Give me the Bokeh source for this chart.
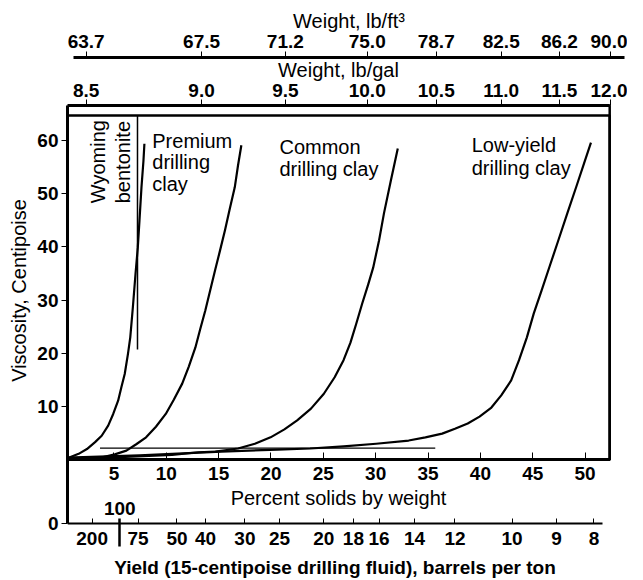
import math
from bokeh.plotting import figure
from bokeh.models import Range1d, LinearAxis, FixedTicker, BoxAnnotation, Title
from bokeh.core.properties import value
from bokeh.embed import file_html
from bokeh.resources import INLINE

FONT = "Liberation Sans"

# ---- data: viscosity (cP) vs percent solids by weight ----
wyoming_solids = [0.56, 0.85, 1.63, 2.42, 3.20, 3.83, 4.45, 4.93, 5.40, 5.71, 6.03, 6.34, 6.56,
                  6.81, 7.06, 7.28, 7.44, 7.63, 7.82, 7.91]
wyoming_visc = [0.2, 0.5, 1.1, 2.0, 3.3, 4.5, 6.4, 8.6, 11.1, 13.6, 16.1, 19.9, 23.0,
                28.7, 34.9, 39.9, 45.0, 51.2, 56.2, 59.4]

premium_solids = [0.56, 3.98, 5.08, 6.19, 7.13, 8.07, 9.01, 9.95, 10.73, 11.52, 12.15, 12.78,
                  13.25, 13.72, 14.19, 14.66, 15.13, 15.60, 16.07, 16.54, 16.85, 17.17]
premium_visc = [0.2, 0.5, 1.0, 1.7, 2.9, 4.2, 6.2, 8.6, 11.3, 14.3, 17.5, 21.1,
                24.6, 28.0, 31.8, 35.6, 39.3, 43.1, 47.2, 51.2, 55.3, 59.1]

common_solids = [0.56, 5.56, 10.55, 13.09, 14.69, 16.85, 18.46, 19.96, 21.28, 22.50, 23.82, 25.05,
                 26.08, 26.93, 27.59, 28.15, 28.72, 29.28, 29.76, 30.32, 30.79, 31.45, 32.11]
common_visc = [0.3, 0.5, 0.9, 1.4, 1.5, 2.1, 3.0, 4.2, 5.7, 7.4, 9.6, 12.4,
               15.5, 18.7, 22.0, 25.6, 29.4, 32.9, 36.1, 41.2, 46.3, 52.5, 58.5]

lowyield_solids = [0.56, 7.44, 15.25, 20.62, 23.73, 26.93, 30.04, 33.15, 34.75, 36.35, 37.57, 38.79,
                   39.92, 41.05, 41.99, 42.94, 43.69, 44.44, 45.10, 45.84, 46.64, 47.44,
                   48.30, 49.19, 49.90, 50.56]
lowyield_visc = [0.4, 0.8, 1.5, 1.9, 2.1, 2.5, 3.0, 3.6, 4.2, 4.9, 5.8, 6.8,
                 8.1, 9.8, 12.1, 14.9, 18.7, 23.0, 27.5, 31.8, 36.5, 41.2,
                 46.3, 51.5, 55.7, 59.6]

ref_solids = [3.67, 35.69]
ref_visc = [2.16, 2.16]

divider_solids = [7.25, 7.25]
divider_visc = [20.7, 64.7]

# ---- axes / tick labels ----
visc_ticks = [10, 20, 30, 40, 50, 60]
solids_ticks = [5, 10, 15, 20, 25, 30, 35, 40, 45, 50]

weight_tick_solids = [2.35, 13.37, 21.37, 29.19, 35.78, 41.99, 47.55, 52.4]
lbgal_labels = ["8.5", "9.0", "9.5", "10.0", "10.5", "11.0", "11.5", "12.0"]
lbft3_labels = ["63.7", "67.5", "71.2", "75.0", "78.7", "82.5", "86.2", "90.0"]

yield_tick_solids = [2.92, 7.3, 11.02, 13.75, 17.51, 20.81, 25.05, 27.87, 30.32, 33.71, 37.57, 43.03, 47.27, 50.85]
yield_labels = ["200", "75", "50", "40", "30", "25", "20", "18", "16", "14", "12", "10", "9", "8"]
yield100_solids = [5.56]
yield100_label = ["100"]

# ---- layout constants (axis placement, in data units) ----
X0, X1 = 0.565, 54.05          # frame spans page x 67 -> 635
BOX_RIGHT = 52.35              # right edge of the chart box
Y0, Y1 = -22.71, 86.32         # frame spans whole figure height
Y_YIELD = -12.0                # yield axis line
Y_GAL = 66.58                  # lb/gal axis line / box top
Y_FT3 = 75.6                   # lb/ft3 axis line
Y_INNER_TOP = 64.7             # inner top line of the box

p = figure(width=627, height=580, output_backend="svg", toolbar_location=None,
           x_range=Range1d(X0, X1), y_range=Range1d(Y0, Y1),
           min_border_left=59, min_border_right=0, min_border_top=0, min_border_bottom=0)
p.xgrid.visible = False
p.ygrid.visible = False
p.outline_line_color = None
p.background_fill_color = "white"

def style_axis(ax, size="19px", bold=True):
    ax.major_label_text_font = FONT
    ax.major_label_text_font_size = size
    ax.major_label_text_font_style = "bold" if bold else "normal"
    ax.major_label_text_color = "black"
    ax.axis_label_text_font = FONT
    ax.axis_label_text_font_size = "20px"
    ax.axis_label_text_font_style = "normal"
    ax.axis_label_text_color = "black"
    ax.minor_tick_line_color = None
    ax.axis_line_color = "black"
    ax.major_tick_line_color = "black"

# y axis (viscosity)
yax = p.yaxis[0]
style_axis(yax)
yax.bounds = (Y_YIELD, Y_GAL)
yax.ticker = FixedTicker(ticks=[Y_YIELD] + visc_ticks)
yax.major_label_overrides = {Y_YIELD: "0"}
yax.axis_line_width = 3
yax.major_tick_out = 6
yax.major_tick_in = 0
yax.major_label_standoff = 3

# yield axis
xax = p.xaxis[0]
style_axis(xax)
xax.fixed_location = Y_YIELD
xax.bounds = (X0, 51.7)
xax.ticker = FixedTicker(ticks=yield_tick_solids)
xax.major_label_overrides = dict(zip(yield_tick_solids, yield_labels))
xax.axis_line_width = 2
xax.major_tick_in = 5
xax.major_tick_out = 0
xax.major_label_standoff = 8
xax.axis_label = "Yield (15-centipoise drilling fluid), barrels per ton"
xax.axis_label_text_font_style = "bold"
xax.axis_label_text_font_size = "19px"
xax.axis_label_standoff = 9

# "100" yield label above the yield axis
y100 = LinearAxis(fixed_location=Y_YIELD, ticker=FixedTicker(ticks=yield100_solids),
                  major_label_overrides=dict(zip(yield100_solids, yield100_label)))
style_axis(y100)
y100.axis_line_color = None
y100.major_tick_out = 5
y100.major_tick_in = 23
y100.major_tick_line_width = 2.5
y100.major_label_standoff = 4
p.add_layout(y100, "above")

# percent solids axis at viscosity 0
sax = LinearAxis(fixed_location=0, ticker=FixedTicker(ticks=solids_ticks),
                 axis_label="Percent solids by weight")
style_axis(sax)
sax.bounds = (X0, BOX_RIGHT)
sax.axis_line_width = 3
sax.major_tick_in = 7
sax.major_tick_out = 0
sax.major_label_standoff = 7
sax.axis_label_standoff = 4
p.add_layout(sax, "below")

# top axes
gal = LinearAxis(fixed_location=Y_GAL, ticker=FixedTicker(ticks=weight_tick_solids),
                 major_label_overrides=dict(zip(weight_tick_solids, lbgal_labels)),
                 axis_label="Weight, lb/gal")
style_axis(gal)
gal.bounds = (X0, BOX_RIGHT)
gal.axis_line_width = 3
gal.major_tick_out = 6
gal.major_tick_in = 0
gal.major_label_standoff = 3
gal.axis_label_standoff = 0
p.add_layout(gal, "above")

ft3 = LinearAxis(fixed_location=Y_FT3, ticker=FixedTicker(ticks=weight_tick_solids),
                 major_label_overrides=dict(zip(weight_tick_solids, lbft3_labels)),
                 axis_label="Weight, lb/ft³")
style_axis(ft3)
ft3.bounds = (1.1, 53.8)
ft3.axis_line_width = 3
ft3.major_tick_out = 6
ft3.major_tick_in = 0
ft3.major_label_standoff = 4
ft3.axis_label_standoff = 0
p.add_layout(ft3, "above")

# y label
p.add_layout(Title(text="Viscosity, Centipoise", align="center", offset=-2,
                   text_font=FONT, text_font_size="20px", text_font_style="normal",
                   text_color="black"), "left")

# chart box above the percent-solids axis (double line at the top)
p.add_layout(BoxAnnotation(left=X0, right=BOX_RIGHT, bottom=0, top=Y_GAL,
                           fill_color=None, line_color="black", line_alpha=1.0, line_width=2.5))
p.add_layout(BoxAnnotation(left=X0, right=BOX_RIGHT, bottom=0, top=Y_INNER_TOP,
                           fill_color=None, line_color="black", line_alpha=1.0, line_width=2.5))

# curves
lw = 2.2
p.line(wyoming_solids, wyoming_visc, line_color="black", line_width=lw, line_join="round")
p.line(premium_solids, premium_visc, line_color="black", line_width=lw, line_join="round")
p.line(common_solids, common_visc, line_color="black", line_width=lw, line_join="round")
p.line(lowyield_solids, lowyield_visc, line_color="black", line_width=lw, line_join="round")
p.line(ref_solids, ref_visc, line_color="black", line_width=1.3)
p.line(divider_solids, divider_visc, line_color="black", line_width=1.5)

# labels
tf = value(FONT)
p.text(x=[8.66, 8.66, 8.66], y=[60.0, 55.9, 51.9], text=["Premium", "drilling", "clay"],
       text_font=tf, text_font_size="20px", text_baseline="middle", text_align="left", text_color="black")
p.text(x=[20.81, 20.81], y=[58.7, 54.7], text=["Common", "drilling clay"],
       text_font=tf, text_font_size="20px", text_baseline="middle", text_align="left", text_color="black")
p.text(x=[39.17, 39.17], y=[59.1, 54.9], text=["Low-yield", "drilling clay"],
       text_font=tf, text_font_size="20px", text_baseline="middle", text_align="left", text_color="black")
p.text(x=[3.48, 5.84], y=[48.2, 48.2], text=["Wyoming", "bentonite"], angle=math.pi / 2,
       text_font=tf, text_font_size="20px", text_baseline="middle", text_align="left", text_color="black")

open("out.html", "w").write(file_html(p, INLINE))
